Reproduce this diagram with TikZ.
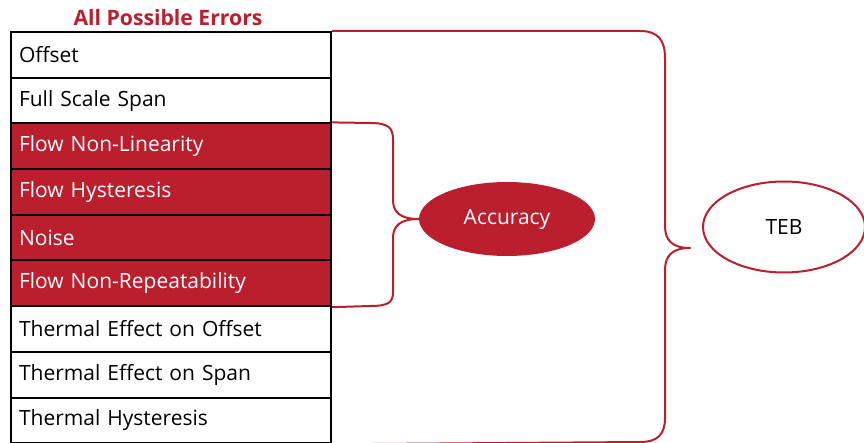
\documentclass[tikz,border=0pt]{standalone}
\usepackage{fontspec}
\setmainfont{Open Sans}
\usetikzlibrary{shapes.geometric}
\definecolor{tred}{RGB}{187,31,46}
\begin{document}
\begin{tikzpicture}[x=1pt,y=-1pt,
  row/.style={draw=black,line width=2pt,rectangle,anchor=north west,
    minimum height=45.7pt,text width=304pt,inner xsep=8pt,inner ysep=0pt,
    align=left,font=\fontsize{21}{24}\selectfont},
  hot/.style={row,fill=tred,text=white},
  brace/.style={draw=tred,line width=2pt,line join=round},
]
\useasboundingbox (0,0) rectangle (864,443);
\node[font=\fontsize{21.2}{24}\selectfont\bfseries,text=tred] (title) at (168,18) {All Possible Errors};
\foreach \i/\t/\s in {1/Offset/row,2/Full Scale Span/row,3/Flow Non-Linearity/hot,
  4/Flow Hysteresis/hot,5/Noise/hot,6/Flow Non-Repeatability/hot,
  7/Thermal Effect on Offset/row,8/Thermal Effect on Span/row,9/Thermal Hysteresis/row}
  \node[\s] (r\i) at (10,{31+(\i-1)*45.7}) {\t};
\node[ellipse,fill=tred,text=white,minimum width=176pt,minimum height=74pt,inner sep=0pt,
  font=\fontsize{21}{24}\selectfont] (acc) at (507,219) {Accuracy};
\node[ellipse,draw=tred,line width=2pt,fill=white,minimum width=162pt,minimum height=91pt,inner sep=0pt,
  font=\fontsize{21}{24}\selectfont] (teb) at (784,227) {TEB};
% inner brace
\draw[brace] (r3.north east) -- (370,123) .. controls (389,123) and (393,128) .. (393,140)
  -- (393,200) .. controls (393,212) and (400,219) .. (acc.west)
  .. controls (400,219) and (393,226) .. (393,238)
  -- (393,292) .. controls (393,302) and (389,306) .. (370,306) -- (r6.south east);
% outer brace
\draw[brace] (r1.north east) -- (640,31) .. controls (658,31) and (665,40) .. (665,58)
  -- (665,226) .. controls (665,240) and (672,248) .. (690,248)
  .. controls (672,248) and (665,256) .. (665,270)
  -- (665,418) .. controls (665,434) and (658,442) .. (640,442) -- (r9.south east);
\end{tikzpicture}
\end{document}
